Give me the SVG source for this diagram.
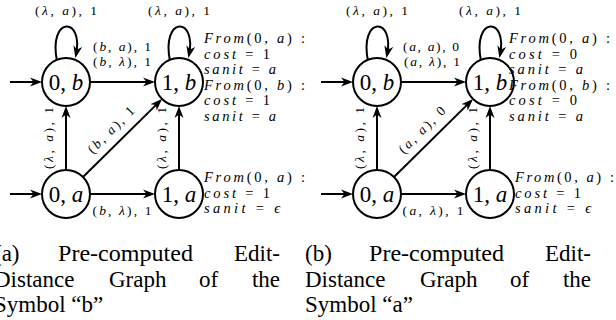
<svg xmlns="http://www.w3.org/2000/svg" width="616" height="320" viewBox="0 0 616 320">
<defs>
<marker id="ah" viewBox="0 0 12 10" markerWidth="12" markerHeight="10" refX="9" refY="5" orient="auto" markerUnits="userSpaceOnUse">
<path d="M0,0.5 L12,5 L0,9.5 L3.5,5 z" fill="#000"/>
</marker>
<style>
.e{stroke:#000;stroke-width:2;fill:none;marker-end:url(#ah)}
.n circle{fill:#fff;stroke:#000;stroke-width:2}
.nl{font-family:"Liberation Serif",serif;font-size:23px;text-anchor:middle}
.i{font-style:italic}
.lb{font-family:"Liberation Serif",serif;font-size:13.5px;text-anchor:middle}
.an{font-family:"Liberation Serif",serif;font-size:14.5px}
.cap{font-family:"Liberation Serif",serif;font-size:23px}
.r{text-anchor:end}
</style>
</defs>
<rect width="616" height="320" fill="#fff"/>

<!-- ===== Graph (a) ===== -->
<g id="edges-a">
<line class="e" x1="10" y1="82" x2="39" y2="82"/>
<line class="e" x1="10" y1="194" x2="39" y2="194"/>
<path class="e" d="M57,61 C48,16 84,16 76,55"/>
<path class="e" d="M170,61 C161,16 197,16 189,55"/>
<line class="e" x1="90" y1="82" x2="152" y2="82"/>
<line class="e" x1="90" y1="194" x2="152" y2="194"/>
<line class="e" x1="66" y1="170" x2="66" y2="109"/>
<line class="e" x1="179" y1="170" x2="179" y2="109"/>
<line class="e" x1="83" y1="177" x2="159.9" y2="101.1"/>
</g>
<g id="labels-a">
<text class="lb" x="66" y="15" textLength="62" lengthAdjust="spacing">(<tspan class="i">λ</tspan>, <tspan class="i">a</tspan>), 1</text>
<text class="lb" x="179" y="15" textLength="62" lengthAdjust="spacing">(<tspan class="i">λ</tspan>, <tspan class="i">a</tspan>), 1</text>
<text class="lb" x="122" y="50.5" textLength="58" lengthAdjust="spacing">(<tspan class="i">b</tspan>, <tspan class="i">a</tspan>), 1</text>
<text class="lb" x="122" y="65.5" textLength="58" lengthAdjust="spacing">(<tspan class="i">b</tspan>, <tspan class="i">λ</tspan>), 1</text>
<text class="lb" x="122" y="215" textLength="59" lengthAdjust="spacing">(<tspan class="i">b</tspan>, <tspan class="i">λ</tspan>), 1</text>
<text class="lb" transform="translate(53,138) rotate(-90)" textLength="62" lengthAdjust="spacing">(<tspan class="i">λ</tspan>, <tspan class="i">a</tspan>), 1</text>
<text class="lb" transform="translate(166,138) rotate(-90)" textLength="62" lengthAdjust="spacing">(<tspan class="i">λ</tspan>, <tspan class="i">a</tspan>), 1</text>
<text class="lb" transform="translate(114,133) rotate(-45)" textLength="60" lengthAdjust="spacing">(<tspan class="i">b</tspan>, <tspan class="i">a</tspan>), 1</text>
</g>
<g id="a-0b" class="n"><circle cx="66" cy="82" r="24"/><text class="nl" x="66" y="90">0, <tspan class="i">b</tspan></text></g>
<g id="a-1b" class="n"><circle cx="179" cy="82" r="24"/><text class="nl" x="179" y="90">1, <tspan class="i">b</tspan></text></g>
<g id="a-0a" class="n"><circle cx="66" cy="194" r="24"/><text class="nl" x="66" y="202">0, <tspan class="i">a</tspan></text></g>
<g id="a-1a" class="n"><circle cx="179" cy="194" r="24"/><text class="nl" x="179" y="202">1, <tspan class="i">a</tspan></text></g>
<g id="a-notes" class="an">
<text x="204" y="43" textLength="101" lengthAdjust="spacing"><tspan class="i">From</tspan>(0, <tspan class="i">a</tspan>) :</text>
<text x="204" y="58.6" textLength="66" lengthAdjust="spacing"><tspan class="i">cost</tspan> = 1</text>
<text x="204" y="74.2" textLength="72" lengthAdjust="spacing"><tspan class="i">sanit</tspan> = <tspan class="i">a</tspan></text>
<text x="204" y="89.8" textLength="101" lengthAdjust="spacing"><tspan class="i">From</tspan>(0, <tspan class="i">b</tspan>) :</text>
<text x="204" y="105.4" textLength="66" lengthAdjust="spacing"><tspan class="i">cost</tspan> = 1</text>
<text x="204" y="121" textLength="72" lengthAdjust="spacing"><tspan class="i">sanit</tspan> = <tspan class="i">a</tspan></text>
<text x="204" y="182" textLength="101" lengthAdjust="spacing"><tspan class="i">From</tspan>(0, <tspan class="i">a</tspan>) :</text>
<text x="204" y="197.5" textLength="66" lengthAdjust="spacing"><tspan class="i">cost</tspan> = 1</text>
<text x="204" y="213" textLength="76" lengthAdjust="spacing"><tspan class="i">sanit</tspan> = <tspan class="i">ϵ</tspan></text>
</g>
<g id="caption-a" class="cap">
<text x="-6" y="261">(a)</text>
<text x="58" y="261" textLength="135" lengthAdjust="spacingAndGlyphs">Pre-computed</text>
<text class="r" x="280" y="261">Edit-</text>
<text x="-6" y="287">Distance</text>
<text x="109" y="287">Graph</text>
<text x="199" y="287">of</text>
<text class="r" x="280" y="287">the</text>
<text x="-6" y="312">Symbol “b”</text>
</g>

<!-- ===== Graph (b) ===== -->
<g id="edges-b">
<line class="e" x1="321" y1="82" x2="350" y2="82"/>
<line class="e" x1="321" y1="194" x2="350" y2="194"/>
<path class="e" d="M368,61 C359,16 395,16 387,55"/>
<path class="e" d="M481,61 C472,16 508,16 500,55"/>
<line class="e" x1="401" y1="82" x2="463" y2="82"/>
<line class="e" x1="401" y1="194" x2="463" y2="194"/>
<line class="e" x1="377" y1="170" x2="377" y2="109"/>
<line class="e" x1="490" y1="170" x2="490" y2="109"/>
<line class="e" x1="394" y1="177" x2="470.9" y2="101.1"/>
</g>
<g id="labels-b">
<text class="lb" x="377" y="15" textLength="62" lengthAdjust="spacing">(<tspan class="i">λ</tspan>, <tspan class="i">a</tspan>), 1</text>
<text class="lb" x="490" y="15" textLength="62" lengthAdjust="spacing">(<tspan class="i">λ</tspan>, <tspan class="i">a</tspan>), 1</text>
<text class="lb" x="431" y="50.5" textLength="56" lengthAdjust="spacing">(<tspan class="i">a</tspan>, <tspan class="i">a</tspan>), 0</text>
<text class="lb" x="432" y="65.5" textLength="56" lengthAdjust="spacing">(<tspan class="i">a</tspan>, <tspan class="i">λ</tspan>), 1</text>
<text class="lb" x="433" y="215" textLength="61" lengthAdjust="spacing">(<tspan class="i">a</tspan>, <tspan class="i">λ</tspan>), 1</text>
<text class="lb" transform="translate(364,138) rotate(-90)" textLength="62" lengthAdjust="spacing">(<tspan class="i">λ</tspan>, <tspan class="i">a</tspan>), 1</text>
<text class="lb" transform="translate(477,138) rotate(-90)" textLength="62" lengthAdjust="spacing">(<tspan class="i">λ</tspan>, <tspan class="i">a</tspan>), 1</text>
<text class="lb" transform="translate(425,133) rotate(-45)" textLength="60" lengthAdjust="spacing">(<tspan class="i">a</tspan>, <tspan class="i">a</tspan>), 0</text>
</g>
<g id="b-0b" class="n"><circle cx="377" cy="82" r="24"/><text class="nl" x="377" y="90">0, <tspan class="i">b</tspan></text></g>
<g id="b-1b" class="n"><circle cx="490" cy="82" r="24"/><text class="nl" x="490" y="90">1, <tspan class="i">b</tspan></text></g>
<g id="b-0a" class="n"><circle cx="377" cy="194" r="24"/><text class="nl" x="377" y="202">0, <tspan class="i">a</tspan></text></g>
<g id="b-1a" class="n"><circle cx="490" cy="194" r="24"/><text class="nl" x="490" y="202">1, <tspan class="i">a</tspan></text></g>
<g id="b-notes" class="an">
<text x="509" y="43" textLength="101" lengthAdjust="spacing"><tspan class="i">From</tspan>(0, <tspan class="i">a</tspan>) :</text>
<text x="509" y="58.6" textLength="68" lengthAdjust="spacing"><tspan class="i">cost</tspan> = 0</text>
<text x="509" y="74.2" textLength="74" lengthAdjust="spacing"><tspan class="i">sanit</tspan> = <tspan class="i">a</tspan></text>
<text x="509" y="89.8" textLength="101" lengthAdjust="spacing"><tspan class="i">From</tspan>(0, <tspan class="i">b</tspan>) :</text>
<text x="509" y="105.4" textLength="68" lengthAdjust="spacing"><tspan class="i">cost</tspan> = 0</text>
<text x="509" y="121" textLength="74" lengthAdjust="spacing"><tspan class="i">sanit</tspan> = <tspan class="i">a</tspan></text>
<text x="515" y="182" textLength="99" lengthAdjust="spacing"><tspan class="i">From</tspan>(0, <tspan class="i">a</tspan>) :</text>
<text x="515" y="197.5" textLength="66" lengthAdjust="spacing"><tspan class="i">cost</tspan> = 1</text>
<text x="515" y="213" textLength="76" lengthAdjust="spacing"><tspan class="i">sanit</tspan> = <tspan class="i">ϵ</tspan></text>
</g>
<g id="caption-b" class="cap">
<text x="305" y="261">(b)</text>
<text x="369" y="261" textLength="135" lengthAdjust="spacingAndGlyphs">Pre-computed</text>
<text class="r" x="591" y="261">Edit-</text>
<text x="305" y="287">Distance</text>
<text x="420" y="287">Graph</text>
<text x="510" y="287">of</text>
<text class="r" x="591" y="287">the</text>
<text x="305" y="312">Symbol “a”</text>
</g>
</svg>
